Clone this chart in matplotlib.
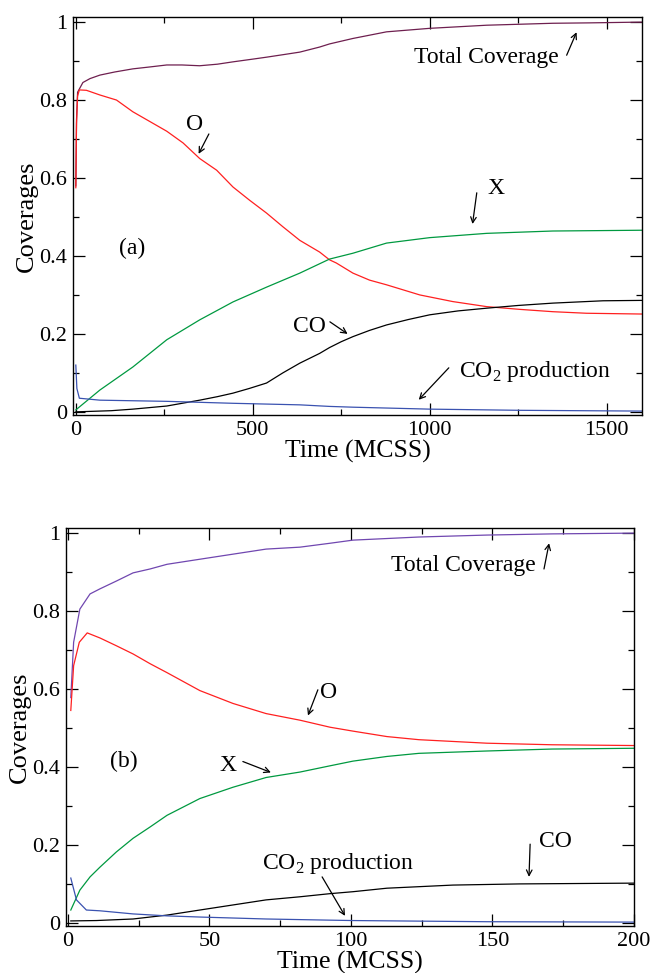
import numpy as np
import matplotlib
matplotlib.use("Agg")
import matplotlib.pyplot as plt
from matplotlib.ticker import MultipleLocator

plt.rcParams['font.family'] = ['Liberation Serif', 'DejaVu Serif']
plt.rcParams['mathtext.fontset'] = 'custom'
plt.rcParams['mathtext.rm'] = 'Liberation Serif'

# ---- panel (a) data ----
tot_t_a = [0, 2, 5, 11, 20, 40, 68, 110, 161, 210, 257, 300, 350, 400, 444, 500, 539, 590, 633, 689, 717, 783, 878, 1000, 1161, 1348, 1450, 1600]
tot_v_a = [0.58, 0.75, 0.82, 0.83, 0.845, 0.855, 0.864, 0.872, 0.88, 0.885, 0.89, 0.89, 0.888, 0.892, 0.898, 0.905, 0.91, 0.917, 0.923, 0.936, 0.944, 0.958, 0.975, 0.984, 0.992, 0.997, 0.998, 1.0]
o_t_a = [0, 2, 5, 10, 30, 68, 115, 161, 209, 257, 303, 350, 398, 444, 491, 539, 585, 633, 689, 717, 736, 783, 830, 878, 972, 1065, 1161, 1254, 1348, 1443, 1600]
o_v_a = [0.575, 0.74, 0.81, 0.826, 0.825, 0.813, 0.80, 0.77, 0.745, 0.72, 0.69, 0.65, 0.62, 0.577, 0.543, 0.51, 0.475, 0.44, 0.41, 0.39, 0.382, 0.356, 0.338, 0.326, 0.30, 0.283, 0.27, 0.263, 0.257, 0.253, 0.251]
x_t_a = [0, 68, 161, 257, 350, 444, 539, 633, 717, 783, 878, 1000, 1161, 1348, 1600]
x_v_a = [0.005, 0.056, 0.115, 0.185, 0.236, 0.282, 0.32, 0.356, 0.392, 0.407, 0.433, 0.447, 0.458, 0.464, 0.466]
co_t_a = [0, 100, 161, 257, 350, 400, 444, 490, 539, 585, 633, 689, 717, 750, 783, 830, 878, 940, 1000, 1080, 1161, 1250, 1348, 1490, 1600]
co_v_a = [0.0, 0.003, 0.007, 0.015, 0.03, 0.039, 0.048, 0.06, 0.074, 0.10, 0.125, 0.15, 0.165, 0.18, 0.193, 0.209, 0.223, 0.237, 0.249, 0.259, 0.266, 0.273, 0.279, 0.285, 0.286]
co2_t_a = [0, 3, 10, 68, 257, 444, 633, 717, 783, 1000, 1254, 1600]
co2_v_a = [0.12, 0.06, 0.035, 0.03, 0.027, 0.022, 0.018, 0.014, 0.012, 0.007, 0.004, 0.002]

# ---- panel (b) data ----
tot_t_b = [1, 2, 4.2, 7.8, 11.3, 17.1, 23, 29, 35, 46.6, 58.3, 70, 82, 92.6, 100.7, 124, 148, 171, 200]
tot_v_b = [0.578, 0.72, 0.805, 0.844, 0.857, 0.877, 0.898, 0.908, 0.92, 0.933, 0.946, 0.959, 0.964, 0.974, 0.982, 0.99, 0.995, 0.998, 1.0]
o_t_b = [1, 2, 4, 6.8, 11.3, 17.1, 23, 29, 35, 46.6, 58.3, 70, 82, 92.6, 100.7, 112.7, 124, 148, 171, 200]
o_v_b = [0.545, 0.66, 0.72, 0.744, 0.731, 0.711, 0.69, 0.665, 0.642, 0.596, 0.563, 0.537, 0.52, 0.502, 0.492, 0.478, 0.47, 0.461, 0.457, 0.455]
x_t_b = [1, 4.2, 7.8, 11.3, 17.1, 23, 29, 35, 46.6, 58.3, 70, 82, 92.6, 100.7, 112.7, 124, 148, 171, 200]
x_v_b = [0.033, 0.084, 0.118, 0.143, 0.182, 0.217, 0.246, 0.276, 0.319, 0.348, 0.373, 0.387, 0.403, 0.415, 0.427, 0.435, 0.441, 0.446, 0.448]
co_t_b = [1, 10, 23, 35, 46.6, 58.3, 70, 82, 92.6, 100.7, 112.7, 136, 159.6, 200]
co_v_b = [0.005, 0.006, 0.01, 0.02, 0.033, 0.046, 0.059, 0.067, 0.075, 0.08, 0.089, 0.097, 0.1, 0.102]
co2_t_b = [1, 3, 6.5, 11.3, 23, 35, 46.6, 70, 92.6, 100.7, 148, 200]
co2_v_b = [0.115, 0.059, 0.033, 0.031, 0.023, 0.018, 0.015, 0.01, 0.007, 0.006, 0.003, 0.002]

red = '#ff2020'
green = '#009940'
blue = '#3a52b0'
lw = 0.9


def style_axis(ax, xlim, xmaj, xmin):
    ax.set_xlim(xlim)
    ax.set_ylim(-0.008, 1.013)
    ax.xaxis.set_major_locator(MultipleLocator(xmaj))
    ax.xaxis.set_minor_locator(MultipleLocator(xmin))
    ax.yaxis.set_minor_locator(MultipleLocator(0.1))
    ax.set_yticks([0, 0.2, 0.4, 0.6, 0.8, 1.0])
    ax.set_yticklabels(['0', '0.2', '0.4', '0.6', '0.8', '1'])
    ax.tick_params(which='both', direction='in', top=True, right=True, labelsize=16, pad=4)
    ax.tick_params(which='major', length=8.5, width=0.9)
    ax.tick_params(which='minor', length=4.3, width=0.9)
    for s in ax.spines.values():
        s.set_linewidth(1.0)
    ax.set_xlabel('Time (MCSS)', fontsize=18.5, labelpad=0)
    ax.set_ylabel('Coverages', fontsize=19, labelpad=1)


def note(ax, text, xy, tip, tail):
    ax.text(xy[0], xy[1], text, fontsize=17, ha='center', va='center')
    ax.annotate('', xy=tip, xytext=tail,
                arrowprops=dict(arrowstyle='->', lw=0.9, color='black', shrinkA=0, shrinkB=0))


fig = plt.figure(figsize=(6.54, 9.73), dpi=100)

ax1 = fig.add_axes([0.1116, 0.5735, 0.8701, 0.409])
ax1.plot(tot_t_a, tot_v_a, color='#6e1f4f', lw=lw)
ax1.plot(o_t_a, o_v_a, color=red, lw=lw)
ax1.plot(x_t_a, x_v_a, color=green, lw=lw)
ax1.plot(co_t_a, co_v_a, color='black', lw=lw)
ax1.plot(co2_t_a, co2_v_a, color=blue, lw=lw)
style_axis(ax1, (-8, 1600), 500, 250)
note(ax1, 'O', (336, 0.738), (347, 0.662), (376, 0.713))
ax1.text(158, 0.42, '(a)', fontsize=17, ha='center', va='center')
note(ax1, 'CO', (661, 0.22), (768, 0.2), (718, 0.231))
note(ax1, 'X', (1186, 0.574), (1121, 0.482), (1133, 0.562))
note(ax1, 'Total Coverage', (1161, 0.91), (1415, 0.974), (1387, 0.915))
note(ax1, r'CO$_2$ production', (1297, 0.103), (969, 0.031), (1054, 0.113))

ax2 = fig.add_axes([0.1009, 0.0483, 0.8685, 0.409])
ax2.plot(tot_t_b, tot_v_b, color='#7047b0', lw=lw)
ax2.plot(o_t_b, o_v_b, color=red, lw=lw)
ax2.plot(x_t_b, x_v_b, color=green, lw=lw)
ax2.plot(co_t_b, co_v_b, color='black', lw=lw)
ax2.plot(co2_t_b, co2_v_b, color=blue, lw=lw)
style_axis(ax2, (-0.7, 200), 50, 25)
note(ax2, 'Total Coverage', (139.6, 0.916), (170, 0.974), (168.2, 0.908))
note(ax2, 'O', (92.2, 0.591), (84.8, 0.532), (88.3, 0.598))
ax2.text(19.8, 0.414, '(b)', fontsize=17, ha='center', va='center')
note(ax2, 'X', (56.5, 0.404), (71.7, 0.386), (61.8, 0.414))
note(ax2, r'CO$_2$ production', (95.4, 0.153), (97.9, 0.018), (89.8, 0.118))
note(ax2, 'CO', (172.4, 0.21), (162.9, 0.118), (163.3, 0.202))

fig.savefig('out.png', dpi=100)
